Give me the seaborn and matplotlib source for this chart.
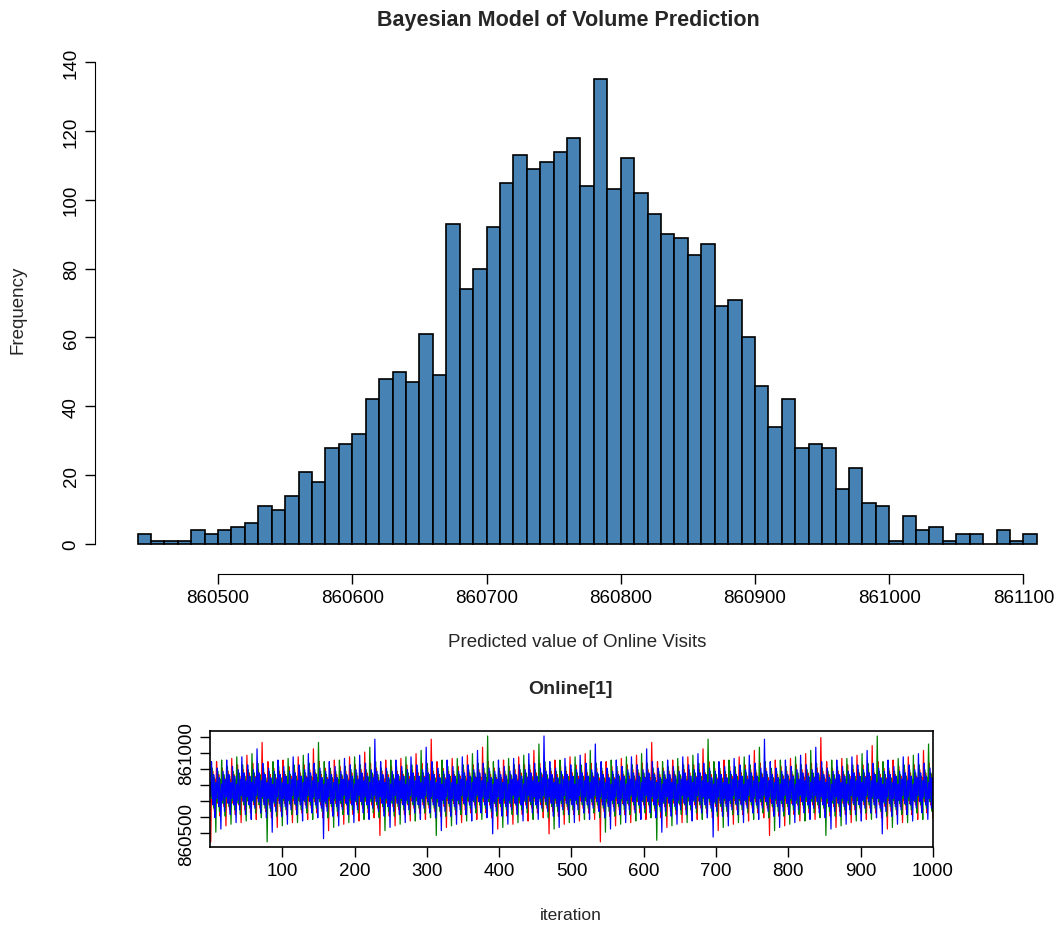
import numpy as np
import pandas as pd
import matplotlib
matplotlib.use("Agg")
import matplotlib.pyplot as plt
import seaborn as sns

sns.set_style("white")
plt.rcParams['font.family'] = ['Liberation Sans', 'DejaVu Sans']

# histogram of predicted online visits, bins of width 10 from 860440 to 861110
bin_start = 860440
bin_width = 10
counts = [3, 1, 1, 1, 4, 3, 4, 5, 6, 11, 10, 14, 21, 18, 28, 29, 32, 42, 48, 50,
          47, 61, 49, 93, 74, 80, 92, 105, 113, 109, 111, 114, 118, 104, 135, 103,
          112, 102, 96, 90, 89, 84, 87, 69, 71, 60, 46, 34, 42, 28, 29, 28, 16, 22,
          12, 11, 1, 8, 4, 5, 1, 3, 3, 0, 4, 1, 3]
x_ticks = [860500, 860600, 860700, 860800, 860900, 861000, 861100]
y_ticks = [0, 20, 40, 60, 80, 100, 120, 140]
chain_colors = ['red', 'green', 'blue']
iter_ticks = [100, 200, 300, 400, 500, 600, 700, 800, 900, 1000]

edges = bin_start + bin_width * np.arange(len(counts) + 1)
centers = edges[:-1] + bin_width / 2
hist_df = pd.DataFrame({'value': centers, 'count': counts})

# trace values: the histogram samples, spread across 3 chains in a fixed order
samples = np.repeat(centers, counts)
n = len(samples)
step = int(n * 0.618)
while np.gcd(step, n) != 1:
    step += 1
order = (np.arange(n) * step) % n
samples = samples[order]
n_iter = n // 3

fig = plt.figure(figsize=(10.63, 9.29), dpi=100)
px = 72 / 100

# top: histogram
ax = fig.add_axes([0.094, 0.397, 0.889, 0.560])
sns.histplot(data=hist_df, x='value', weights='count', binwidth=bin_width,
             binrange=(edges[0], edges[-1]), ax=ax,
             color='steelblue', edgecolor='black', linewidth=1.2, alpha=1)
ax.set_xlim(860412, 861116)
ax.set_ylim(-4.4, 146.7)
for s in ['top', 'right']:
    ax.spines[s].set_visible(False)
ax.spines['left'].set_position(('outward', 5 * px))
ax.spines['bottom'].set_position(('outward', 15 * px))
ax.spines['left'].set_bounds(0, 140)
ax.spines['bottom'].set_bounds(860500, 861100)
for s in ['left', 'bottom']:
    ax.spines[s].set_color('black')
ax.set_xticks(x_ticks)
ax.set_xticklabels([str(v) for v in x_ticks])
ax.set_yticks(y_ticks)
ax.set_yticklabels([str(v) for v in y_ticks], rotation=90, va='center')
ax.tick_params(direction='out', length=7, width=1, labelsize=13.5, colors='black',
               left=True, bottom=True, pad=4)
ax.set_xlabel('')
ax.set_ylabel('')
fig.text(0.535, 0.978, 'Bayesian Model of Volume Prediction', ha='center', va='center',
         fontsize=15.5, fontweight='bold')
fig.text(0.543, 1 - 643 / 929, 'Predicted value of Online Visits', ha='center',
         va='center', fontsize=13.5)
fig.text(18 / 1063, 1 - 310 / 929, 'Frequency', ha='center', va='center',
         rotation=90, fontsize=13.5)

# bottom: trace plot
ax2 = fig.add_axes([0.1976, 0.0872, 0.680, 0.125])
for i, c in enumerate(chain_colors):
    chain = pd.DataFrame({'iteration': np.arange(1, n_iter + 1),
                          'value': samples[i * n_iter:(i + 1) * n_iter]})
    sns.lineplot(data=chain, x='iteration', y='value', ax=ax2, color=c,
                 linewidth=0.9, estimator=None)
ax2.set_xlim(0, 1000)
ax2.set_ylim(860413, 861137)
for s in ax2.spines.values():
    s.set_color('black')
    s.set_linewidth(1.2)
ax2.set_xticks(iter_ticks)
ax2.set_xticklabels([str(v) for v in iter_ticks])
ax2.set_yticks(np.arange(860500, 861101, 100))
ax2.set_yticklabels(['860500', '', '', '', '', '861000', ''], rotation=90, va='center')
ax2.tick_params(direction='out', length=7, width=1, labelsize=13.5, colors='black',
                left=True, bottom=True, pad=4)
ax2.set_xlabel('')
ax2.set_ylabel('')
fig.text(0.537, 1 - 690 / 929, 'Online[1]', ha='center', va='center',
         fontsize=14, fontweight='bold')
fig.text(0.537, 1 - 916 / 929, 'iteration', ha='center', va='center', fontsize=12.5)

fig.savefig('out.png', dpi=100)
